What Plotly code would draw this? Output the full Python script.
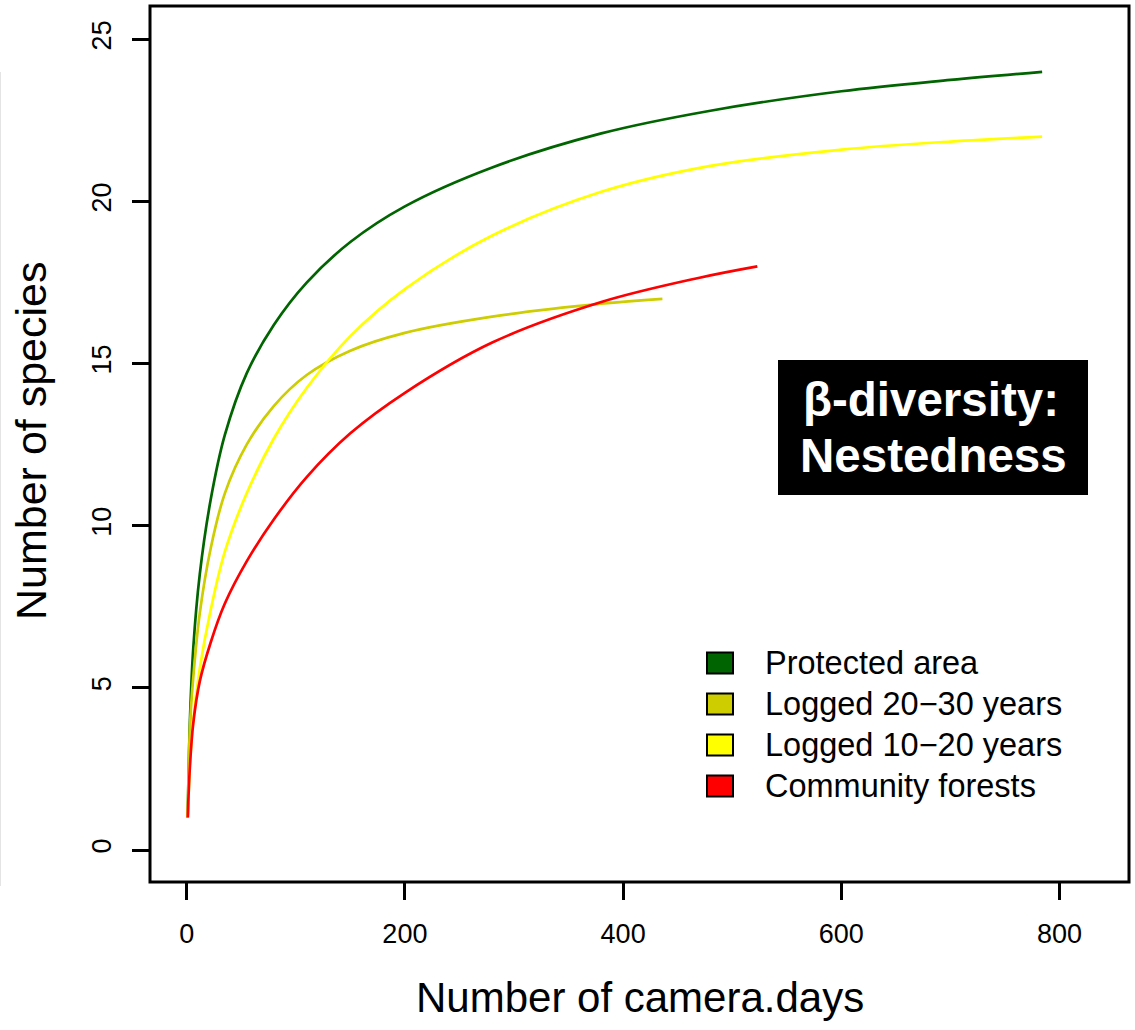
import plotly.graph_objects as go

# Species accumulation curves: number of camera-days vs number of species
protected_x = [1, 3, 6, 12, 22, 35, 55, 80, 110, 150, 200, 280, 380, 480, 600, 700, 784]
protected_y = [1, 4.0, 6.2, 8.5, 10.8, 12.8, 14.7, 16.2, 17.5, 18.75, 19.85, 21.05, 22.1, 22.8, 23.4, 23.75, 24.0]

logged_20_30_x = [1, 3, 6, 12, 22, 35, 55, 80, 110, 150, 200, 280, 380, 436]
logged_20_30_y = [1, 3.8, 5.3, 7.3, 9.3, 11.0, 12.5, 13.7, 14.65, 15.4, 15.95, 16.45, 16.85, 17.0]

logged_10_20_x = [1, 3, 6, 12, 22, 35, 55, 80, 110, 150, 200, 280, 380, 480, 600, 700, 784]
logged_10_20_y = [1, 2.6, 4.0, 5.6, 7.4, 9.2, 11.0, 12.7, 14.25, 15.85, 17.3, 18.95, 20.3, 21.1, 21.6, 21.85, 22.0]

community_x = [1, 3, 6, 12, 22, 35, 55, 80, 110, 150, 200, 280, 380, 470, 523]
community_y = [1, 2.6, 3.9, 5.2, 6.4, 7.6, 8.9, 10.2, 11.5, 12.85, 14.1, 15.65, 16.9, 17.65, 18.0]

series_names = ["Protected area", "Logged 20\u221230 years", "Logged 10\u221220 years", "Community forests"]
series_colors = ["#006400", "#CDCD00", "#FFFF00", "#FF0000"]

x_ticks = [0, 200, 400, 600, 800]
y_ticks = [0, 5, 10, 15, 20, 25]

FONT = "Liberation Sans, Arial, sans-serif"
W, H = 1135, 1030
L, R, T, B = 150, 1129, 6, 882  # plot box in pixels


def px(x):
    return (x - L) / (R - L)


def py(y):
    return (B - y) / (B - T)


fig = go.Figure()
curves = [
    (protected_x, protected_y),
    (logged_20_30_x, logged_20_30_y),
    (logged_10_20_x, logged_10_20_y),
    (community_x, community_y),
]
for (xs, ys), name, col in zip(curves, series_names, series_colors):
    fig.add_trace(go.Scatter(
        x=xs, y=ys, mode="lines", name=name,
        line=dict(color=col, width=2.7, shape="spline", smoothing=1.0),
        showlegend=False,
    ))

shapes = []
annotations = []

# legend: filled squares with black outline and labels
legend_rows = [663, 704, 745, 786]
for row, name, col in zip(legend_rows, series_names, series_colors):
    shapes.append(dict(
        type="rect", xref="paper", yref="paper",
        x0=px(707), x1=px(733), y0=py(row + 10.5), y1=py(row - 10.5),
        fillcolor=col, line=dict(color="black", width=2),
    ))
    annotations.append(dict(
        xref="paper", yref="paper", x=px(763), y=py(row),
        xanchor="left", yanchor="middle", showarrow=False,
        text=name, font=dict(family=FONT, size=32.5, color="black"),
    ))

# black title box
shapes.append(dict(
    type="rect", xref="paper", yref="paper",
    x0=px(778), x1=px(1088), y0=py(495), y1=py(360),
    fillcolor="black", line=dict(width=0),
))
annotations.append(dict(
    xref="paper", yref="paper", x=px(931), y=py(399),
    xanchor="center", yanchor="middle", showarrow=False,
    text="<b>\u03b2-diversity:</b>", font=dict(family=FONT, size=47.5, color="white"),
))
annotations.append(dict(
    xref="paper", yref="paper", x=px(933), y=py(455),
    xanchor="center", yanchor="middle", showarrow=False,
    text="<b>Nestedness</b>", font=dict(family=FONT, size=47.5, color="white"),
))

# axis titles
annotations.append(dict(
    xref="paper", yref="paper", x=px(640), y=py(997),
    xanchor="center", yanchor="middle", showarrow=False,
    text="Number of camera.days", font=dict(family=FONT, size=42, color="black"),
))
annotations.append(dict(
    xref="paper", yref="paper", x=px(31), y=py(441),
    xanchor="center", yanchor="middle", showarrow=False, textangle=-90,
    text="Number of species", font=dict(family=FONT, size=43, color="black"),
))

# plot box
shapes.append(dict(
    type="rect", xref="paper", yref="paper", x0=0, x1=1, y0=0, y1=1,
    line=dict(color="black", width=3), fillcolor="rgba(0,0,0,0)",
))
# faint rule along the left edge of the page
shapes.append(dict(
    type="line", xref="paper", yref="paper",
    x0=px(0.5), x1=px(0.5), y0=py(886), y1=py(72),
    line=dict(color="#e4e4e4", width=1),
))

fig.update_layout(
    width=W, height=H,
    margin=dict(l=L, r=W - R, t=T, b=H - B, pad=0),
    paper_bgcolor="white", plot_bgcolor="white",
    shapes=shapes, annotations=annotations,
    showlegend=False,
)
fig.update_xaxes(
    range=[-33.6, 863.6], tickvals=x_ticks, ticktext=[str(v) for v in x_ticks],
    ticks="outside", ticklen=17, tickwidth=2.5, tickcolor="black",
    showgrid=False, zeroline=False, showline=False,
    tickfont=dict(family=FONT, size=27, color="black"),
    ticklabelstandoff=11,
)
fig.update_yaxes(
    range=[-0.987, 26.03], tickvals=y_ticks, ticktext=[str(v) for v in y_ticks],
    ticks="outside", ticklen=17, tickwidth=2.5, tickcolor="black",
    showgrid=False, zeroline=False, showline=False, tickangle=-90,
    tickfont=dict(family=FONT, size=27, color="black"),
    ticklabelstandoff=10,
)

fig.write_html("out.html")
